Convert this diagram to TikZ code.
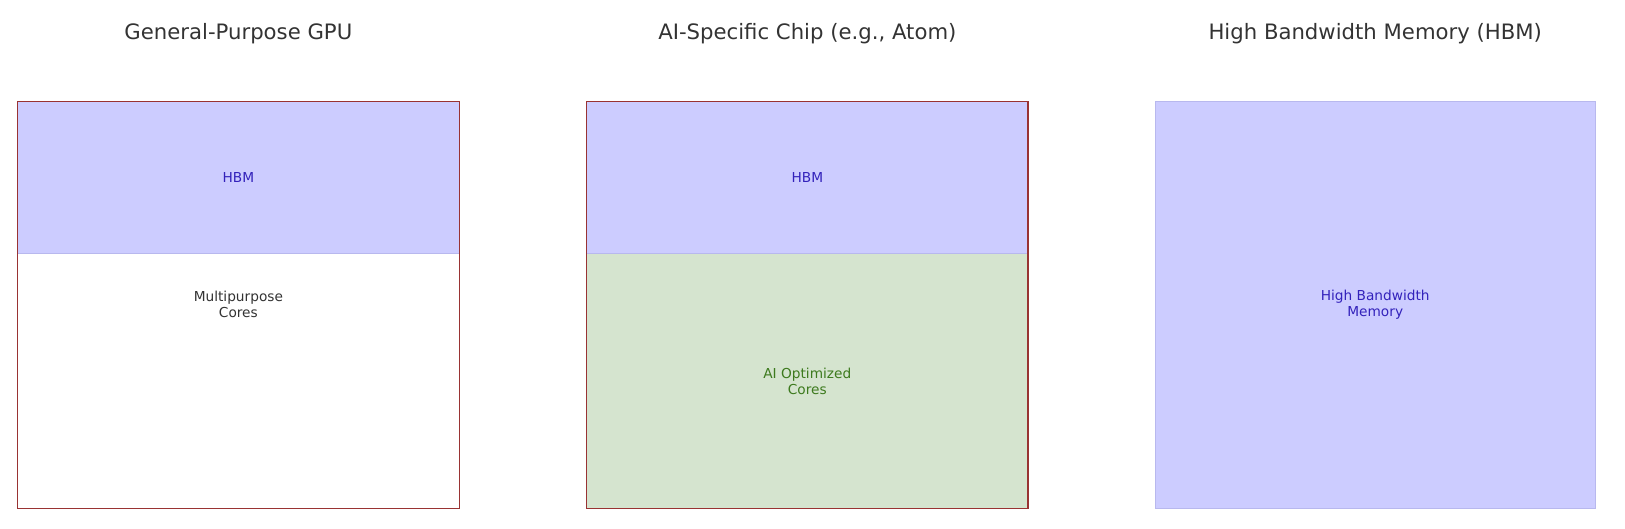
\documentclass[tikz,border=0pt]{standalone}
\usepackage{fontspec}
\setmainfont{DejaVu Sans}
\definecolor{hbmfill}{HTML}{CCCCFF}
\definecolor{hbmline}{HTML}{B8B8EE}
\definecolor{hbmtext}{HTML}{3322BB}
\definecolor{aifill}{HTML}{D5E4CF}
\definecolor{aitext}{HTML}{3D7A1E}
\definecolor{chip}{HTML}{993333}
\definecolor{ttl}{HTML}{333333}
\begin{document}
\begin{tikzpicture}[x=0.518pt,y=-0.518pt,
  title/.style={font=\fontsize{10.6}{12.5}\selectfont,text=ttl},
  lbl/.style={font=\fontsize{6.85}{7.9}\selectfont,align=center},
  hbm/.style={fill=hbmfill,draw=hbmline,line width=0.5pt},
  outer/.style={draw=chip,line width=0.6pt}]
\useasboundingbox (0,0) rectangle (1568,510.4);
% box 1
\node[title] (t1) at (230,32) {General-Purpose GPU};
\draw[hbm] (17,98) rectangle (443,245);
\node[lbl,text=hbmtext] (h1) at (230,171) {HBM};
\node[lbl,text=ttl] (c1) at (230,294) {Multipurpose\\Cores};
\draw[outer] (17,98) rectangle (443,491);
% box 2
\node[title] (t2) at (779,32) {AI-Specific Chip (e.g., Atom)};
\fill[aifill] (566,245) rectangle (992,491);
\draw[hbm] (566,98) rectangle (992,245);
\node[lbl,text=hbmtext] (h2) at (779,171) {HBM};
\node[lbl,text=aitext] (c2) at (779,368) {AI Optimized\\Cores};
\draw[outer] (566,98) rectangle (992,491);
% box 3
\node[title] (t3) at (1327,32) {High Bandwidth Memory (HBM)};
\draw[hbm] (1115,98) rectangle (1540,491);
\node[lbl,text=hbmtext] (h3) at (1327,294) {High Bandwidth\\Memory};
\end{tikzpicture}
\end{document}
